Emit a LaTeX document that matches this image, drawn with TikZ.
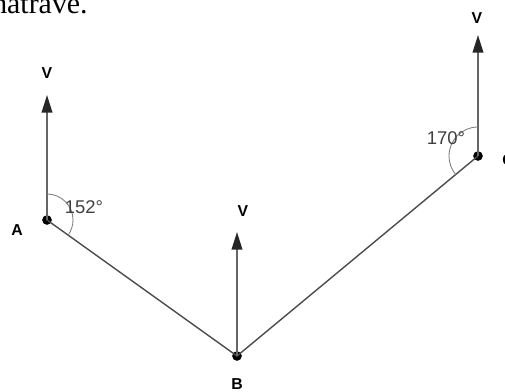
\documentclass[tikz,border=0pt]{standalone}
\usepackage{fontspec}
\setmainfont{Liberation Sans}
\newfontfamily\serifpart{Liberation Serif}
\usetikzlibrary{arrows.meta}
\tikzset{
    vecV/.style={draw=black!60, line width=1.1pt,
        -{Triangle[length=10pt,width=6pt,color=black!85]}},
    bareL/.style={draw=black!70, line width=0.8pt},
    angArc/.style={draw=black!50, line width=0.5pt},
    pnt/.style={circle, fill=black, inner sep=0pt, minimum size=5.5pt},
    lblV/.style={font=\bfseries\fontsize{9}{10}\selectfont},
    lblAng/.style={text=black!75, font=\fontsize{10.5}{12}\selectfont}
}
\begin{document}
\begin{tikzpicture}[x=0.02cm, y=0.02cm]
    \useasboundingbox (0,0) rectangle (505,392);
    % points
    \node[pnt] (A) at (47,172) {};
    \node[pnt] (B) at (237,36) {};
    \node[pnt] (C) at (478,236) {};
    \coordinate (vA) at (47,297);
    \coordinate (vB) at (237,160);
    \coordinate (vC) at (478,357);
    % path and vectors
    \draw[bareL] (A.center) -- (B.center) -- (C.center);
    \draw[vecV] (A.center) -- (vA);
    \draw[vecV] (B.center) -- (vB);
    \draw[vecV] (C.center) -- (vC);
    % angles
    \draw[angArc] (A.center) ++(90:26) arc (90:-35.6:26);
    \draw[angArc] (C.center) ++(90:29) arc (90:219.7:29);
    % labels
    \node[lblV] (tA) at (47,319) {V};
    \node[lblV] (tB) at (243,181) {V};
    \node[lblV] (tC) at (477,374) {V};
    \node[lblV] (nA) at (17,162) {A};
    \node[lblV] (nB) at (237,8) {B};
    \node[lblV] (nC) at (508,232) {C};
    \node[lblAng] (aA) at (84,185) {152°};
    \node[lblAng] (aC) at (446,254) {170°};
    \node[font=\serifpart\fontsize{17}{19}\selectfont, anchor=base east, inner sep=0pt] (txt) at (88,378) {natrave.};
\end{tikzpicture}
\end{document}
